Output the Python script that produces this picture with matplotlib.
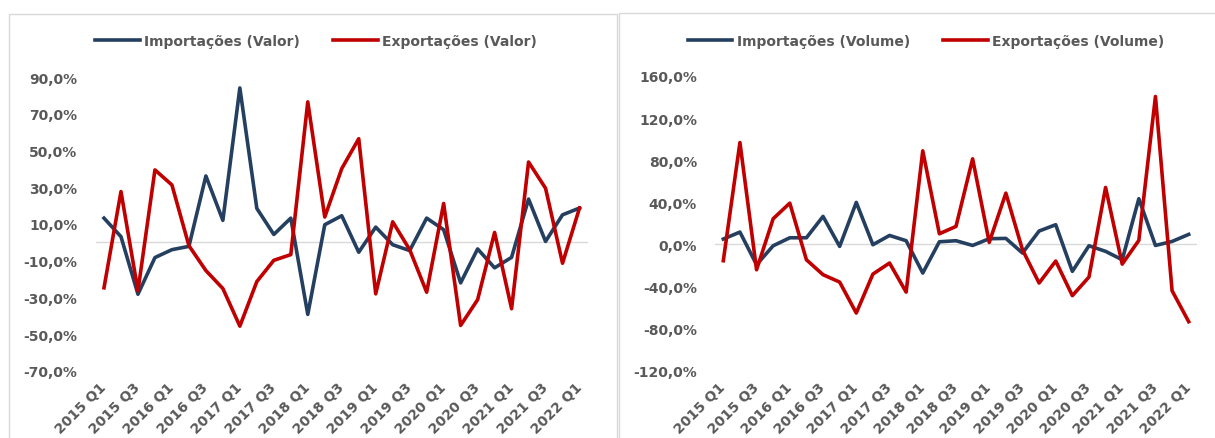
import matplotlib
matplotlib.use("Agg")
import matplotlib.pyplot as plt
from matplotlib.patches import Rectangle

# trimestres 2015 Q1 .. 2022 Q1
trimestres = [f"{a} Q{q}" for a in range(2015, 2023) for q in range(1, 5)][:29]

imp_valor = [13.2, 3.1, -28.3, -8.3, -4.0, -2.2, 36.2, 12.0, 84.2, 18.5,
             4.3, 13.2, -39.3, 9.6, 14.5, -5.4, 8.3, -1.3, -4.5, 13.2,
             6.9, -22.1, -3.6, -13.9, -8.2, 23.6, 0.5, 15.0, 18.7]
exp_valor = [-24.8, 27.7, -26.4, 39.5, 31.3, -1.8, -15.4, -25.2, -45.7, -21.4,
             -9.8, -6.7, 76.6, 13.8, 40.2, 56.5, -28.1, 11.2, -4.0, -27.2,
             21.2, -45.3, -31.3, 5.4, -36.2, 43.8, 29.5, -11.4, 18.7]

imp_volume = [5.1, 11.7, -19.3, -1.3, 6.3, 6.3, 26.6, -1.9, 39.9, -0.3,
              8.5, 3.5, -27.2, 2.5, 3.5, -1.0, 5.4, 5.7, -8.2, 12.7,
              18.7, -25.6, -1.3, -6.6, -14.6, 43.4, -1.0, 2.8, 9.5]
exp_volume = [-15.5, 96.8, -24.1, 24.4, 39.2, -14.6, -28.8, -35.8, -65.2, -28.2,
              -17.7, -45.3, 88.9, 10.1, 17.1, 81.3, 1.9, 48.7, -5.1, -36.7,
              -15.8, -48.7, -31.0, 54.1, -18.7, 3.8, 140.5, -44.0, -73.4]

AZUL = "#243F60"
VERMELHO = "#C00000"
CINZA = "#595959"

plt.rcParams["font.family"] = ["DejaVu Sans"]
plt.rcParams["font.weight"] = "bold"

W, H = 1215, 439
fig = plt.figure(figsize=(W / 100, H / 100), dpi=100)


def px_box(x0, x1, y_top, y_bot):
    return [x0 / W, 1 - y_bot / H, (x1 - x0) / W, (y_bot - y_top) / H]


def painel(rect, imp, exp, nomes, yticks, leg_x):
    ax = fig.add_axes(rect)
    x = range(len(trimestres))
    l1, = ax.plot(x, imp, color=AZUL, lw=2.6, label=nomes[0])
    l2, = ax.plot(x, exp, color=VERMELHO, lw=2.6, label=nomes[1])
    ax.axhline(0, color="#D9D9D9", lw=1.0, zorder=0)
    ax.set_xlim(-0.5, len(trimestres) - 0.5)
    ax.set_ylim(yticks[0], yticks[-1])
    ax.set_yticks(yticks)
    ax.set_yticklabels([f"{v:.1f}%".replace(".", ",") for v in yticks])
    ax.set_xticks(list(x)[::2])
    ax.set_xticklabels(trimestres[::2], rotation=45, ha="right", va="center",
                       rotation_mode="anchor")
    ax.tick_params(length=0, labelsize=10, labelcolor=CINZA)
    ax.tick_params(axis="y", pad=13)
    ax.tick_params(axis="x", pad=10)
    for s in ax.spines.values():
        s.set_visible(False)
    fig.legend(handles=[l1, l2], loc="center",
               bbox_to_anchor=(leg_x / W, 1 - 42 / H), ncol=2, frameon=False,
               fontsize=10, labelcolor=CINZA, handlelength=3.2,
               handletextpad=0.3, columnspacing=2.4)
    return ax


painel(px_box(95.5, 588, 78.3, 371.7), imp_valor, exp_valor,
       ["Importações (Valor)", "Exportações (Valor)"],
       list(range(-70, 91, 20)), 316)
painel(px_box(715, 1197, 77, 371.7), imp_volume, exp_volume,
       ["Importações (Volume)", "Exportações (Volume)"],
       list(range(-120, 161, 40)), 926)

# molduras dos dois gráficos
fig.add_artist(Rectangle((9 / W, -0.05), 608 / W, 1.05 - 15 / H,
                         transform=fig.transFigure, fill=False,
                         edgecolor="#D9D9D9", lw=1.0))
fig.add_artist(Rectangle((619 / W, -0.05), 0.6, 1.05 - 14 / H,
                         transform=fig.transFigure, fill=False,
                         edgecolor="#D9D9D9", lw=1.0))

fig.savefig("out.png", dpi=100)
